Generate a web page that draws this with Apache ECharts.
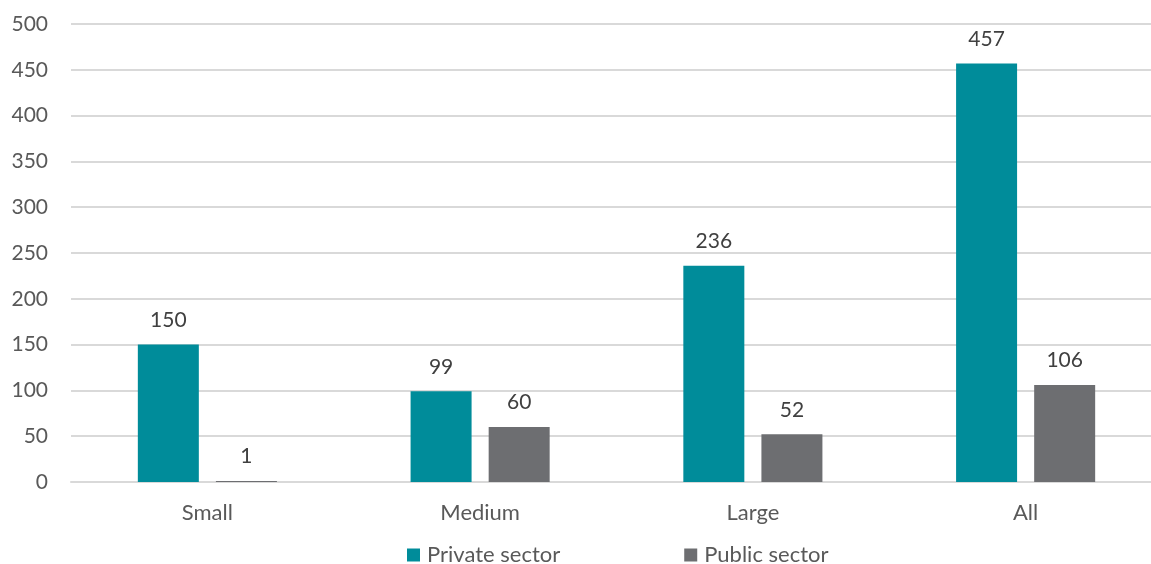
<!DOCTYPE html>
<html>
<head>
<meta charset="utf-8">
<script src="https://cdn.jsdelivr.net/npm/echarts@6/dist/echarts.min.js"></script>
<style>
  html, body { margin: 0; padding: 0; background: #ffffff; overflow: hidden; }
  #chart { width: 1162px; height: 564px; }
</style>
</head>
<body>
<div id="chart"></div>
<script>
// Organisation size groups and counts per sector
const categories = ['Small', 'Medium', 'Large', 'All'];
const privateSector = [150, 99, 236, 457];
const publicSector = [1, 60, 52, 106];
const seriesNames = ['Private sector', 'Public sector'];

const FONT = 'Lato, "Open Sans", sans-serif';
const TEXT = '#595959';
const NUM_SIZE = 21;
const WORD_SIZE = 22;

const chart = echarts.init(document.getElementById('chart'), null, { renderer: 'canvas' });

const labelStyle = {
  show: true,
  position: 'top',
  distance: 14,
  color: '#404040',
  fontSize: NUM_SIZE,
  fontFamily: FONT
};

chart.setOption({
  animation: false,
  textStyle: { fontFamily: FONT },
  // plot area runs slightly past the right edge of the window
  grid: { left: 71, top: 24, right: 0, bottom: 82, containLabel: false },
  legend: {
    data: seriesNames,
    top: 539,
    left: 402,
    itemWidth: 13,
    itemHeight: 13,
    itemGap: 124,
    icon: 'rect',
    textStyle: { color: TEXT, fontSize: WORD_SIZE, fontFamily: FONT, padding: [0, 0, 0, 2] }
  },
  xAxis: {
    type: 'category',
    data: categories,
    axisTick: { show: false },
    axisLine: { show: true, lineStyle: { color: '#d9d9d9', width: 2 } },
    axisLabel: { color: TEXT, fontSize: WORD_SIZE, fontFamily: FONT, margin: 20 }
  },
  yAxis: {
    type: 'value',
    min: 0,
    max: 500,
    interval: 50,
    axisLine: { show: false },
    axisTick: { show: false },
    splitLine: { lineStyle: { color: '#d9d9d9', width: 2 } },
    axisLabel: { color: TEXT, fontSize: NUM_SIZE, fontFamily: FONT, margin: 23 }
  },
  series: [
    {
      name: seriesNames[0],
      type: 'bar',
      data: privateSector,
      barWidth: 61,
      barGap: '28%',
      itemStyle: { color: '#008c9a' },
      label: labelStyle
    },
    {
      name: seriesNames[1],
      type: 'bar',
      data: publicSector,
      barWidth: 61,
      itemStyle: { color: '#6d6e71' },
      label: labelStyle
    }
  ]
});
</script>
</body>
</html>
